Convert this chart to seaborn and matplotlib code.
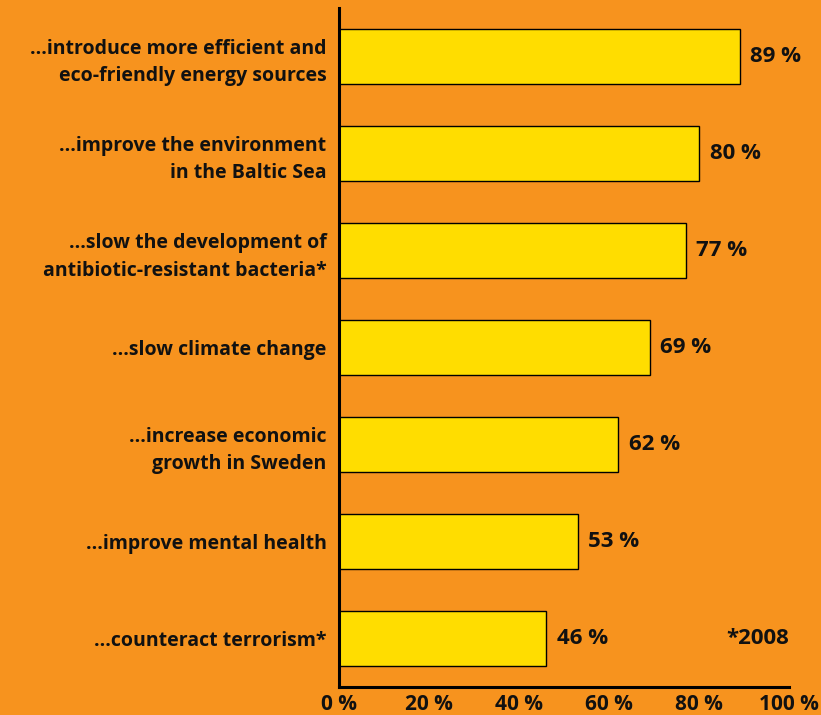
import matplotlib
matplotlib.use("Agg")
import matplotlib.pyplot as plt
import seaborn as sns
import pandas as pd

categories = [
    "...introduce more efficient and\neco-friendly energy sources",
    "...improve the environment\nin the Baltic Sea",
    "...slow the development of\nantibiotic-resistant bacteria*",
    "...slow climate change",
    "...increase economic\ngrowth in Sweden",
    "...improve mental health",
    "...counteract terrorism*",
]
values = [89, 80, 77, 69, 62, 53, 46]
tick_values = [0, 20, 40, 60, 80, 100]
tick_labels = ["0 %", "20 %", "40 %", "60 %", "80 %", "100 %"]
footnote = "*2008"

ORANGE = "#F7931E"
YELLOW = "#FFDD00"
INK = "#111111"

sns.set_theme(style="white")
plt.rcParams["font.family"] = ["Open Sans", "DejaVu Sans"]
plt.rcParams["font.weight"] = "bold"

df = pd.DataFrame({"category": categories, "value": values})

fig = plt.figure(figsize=(8.21, 7.15), dpi=100, facecolor=ORANGE)
ax = fig.add_axes([339 / 821, 1 - 687 / 715, 450 / 821, 679 / 715])
ax.set_facecolor(ORANGE)

sns.barplot(data=df, x="value", y="category", orient="h", color=YELLOW,
            edgecolor="black", linewidth=1.0, width=0.56, saturation=1,
            ax=ax)

ax.set_xlim(0, 100)
ax.set_ylim(6.5, -0.5)
ax.set_xticks(tick_values)
ax.set_xticklabels(tick_labels, fontsize=15, fontweight="bold", color=INK)
ax.tick_params(axis="x", length=0, pad=5)
ax.tick_params(axis="y", length=0, pad=9)
for lbl in ax.get_yticklabels():
    lbl.set_fontsize(14)
    lbl.set_fontweight("bold")
    lbl.set_color(INK)
    lbl.set_horizontalalignment("right")
    lbl.set_multialignment("right")
    lbl.set_linespacing(1.5)
ax.set_xlabel("")
ax.set_ylabel("")

for s in ["top", "right"]:
    ax.spines[s].set_visible(False)
for s in ["left", "bottom"]:
    ax.spines[s].set_color("black")
    ax.spines[s].set_linewidth(2.2)

for i, v in enumerate(values):
    ax.text(v + 2.4, i, f"{v} %", va="center", ha="left", fontsize=16,
            fontweight="bold", color=INK)

ax.text(100, 6.0, footnote, ha="right", va="center", fontsize=16,
        fontweight="bold", color=INK)

fig.savefig("out.png", dpi=100, facecolor=ORANGE)
